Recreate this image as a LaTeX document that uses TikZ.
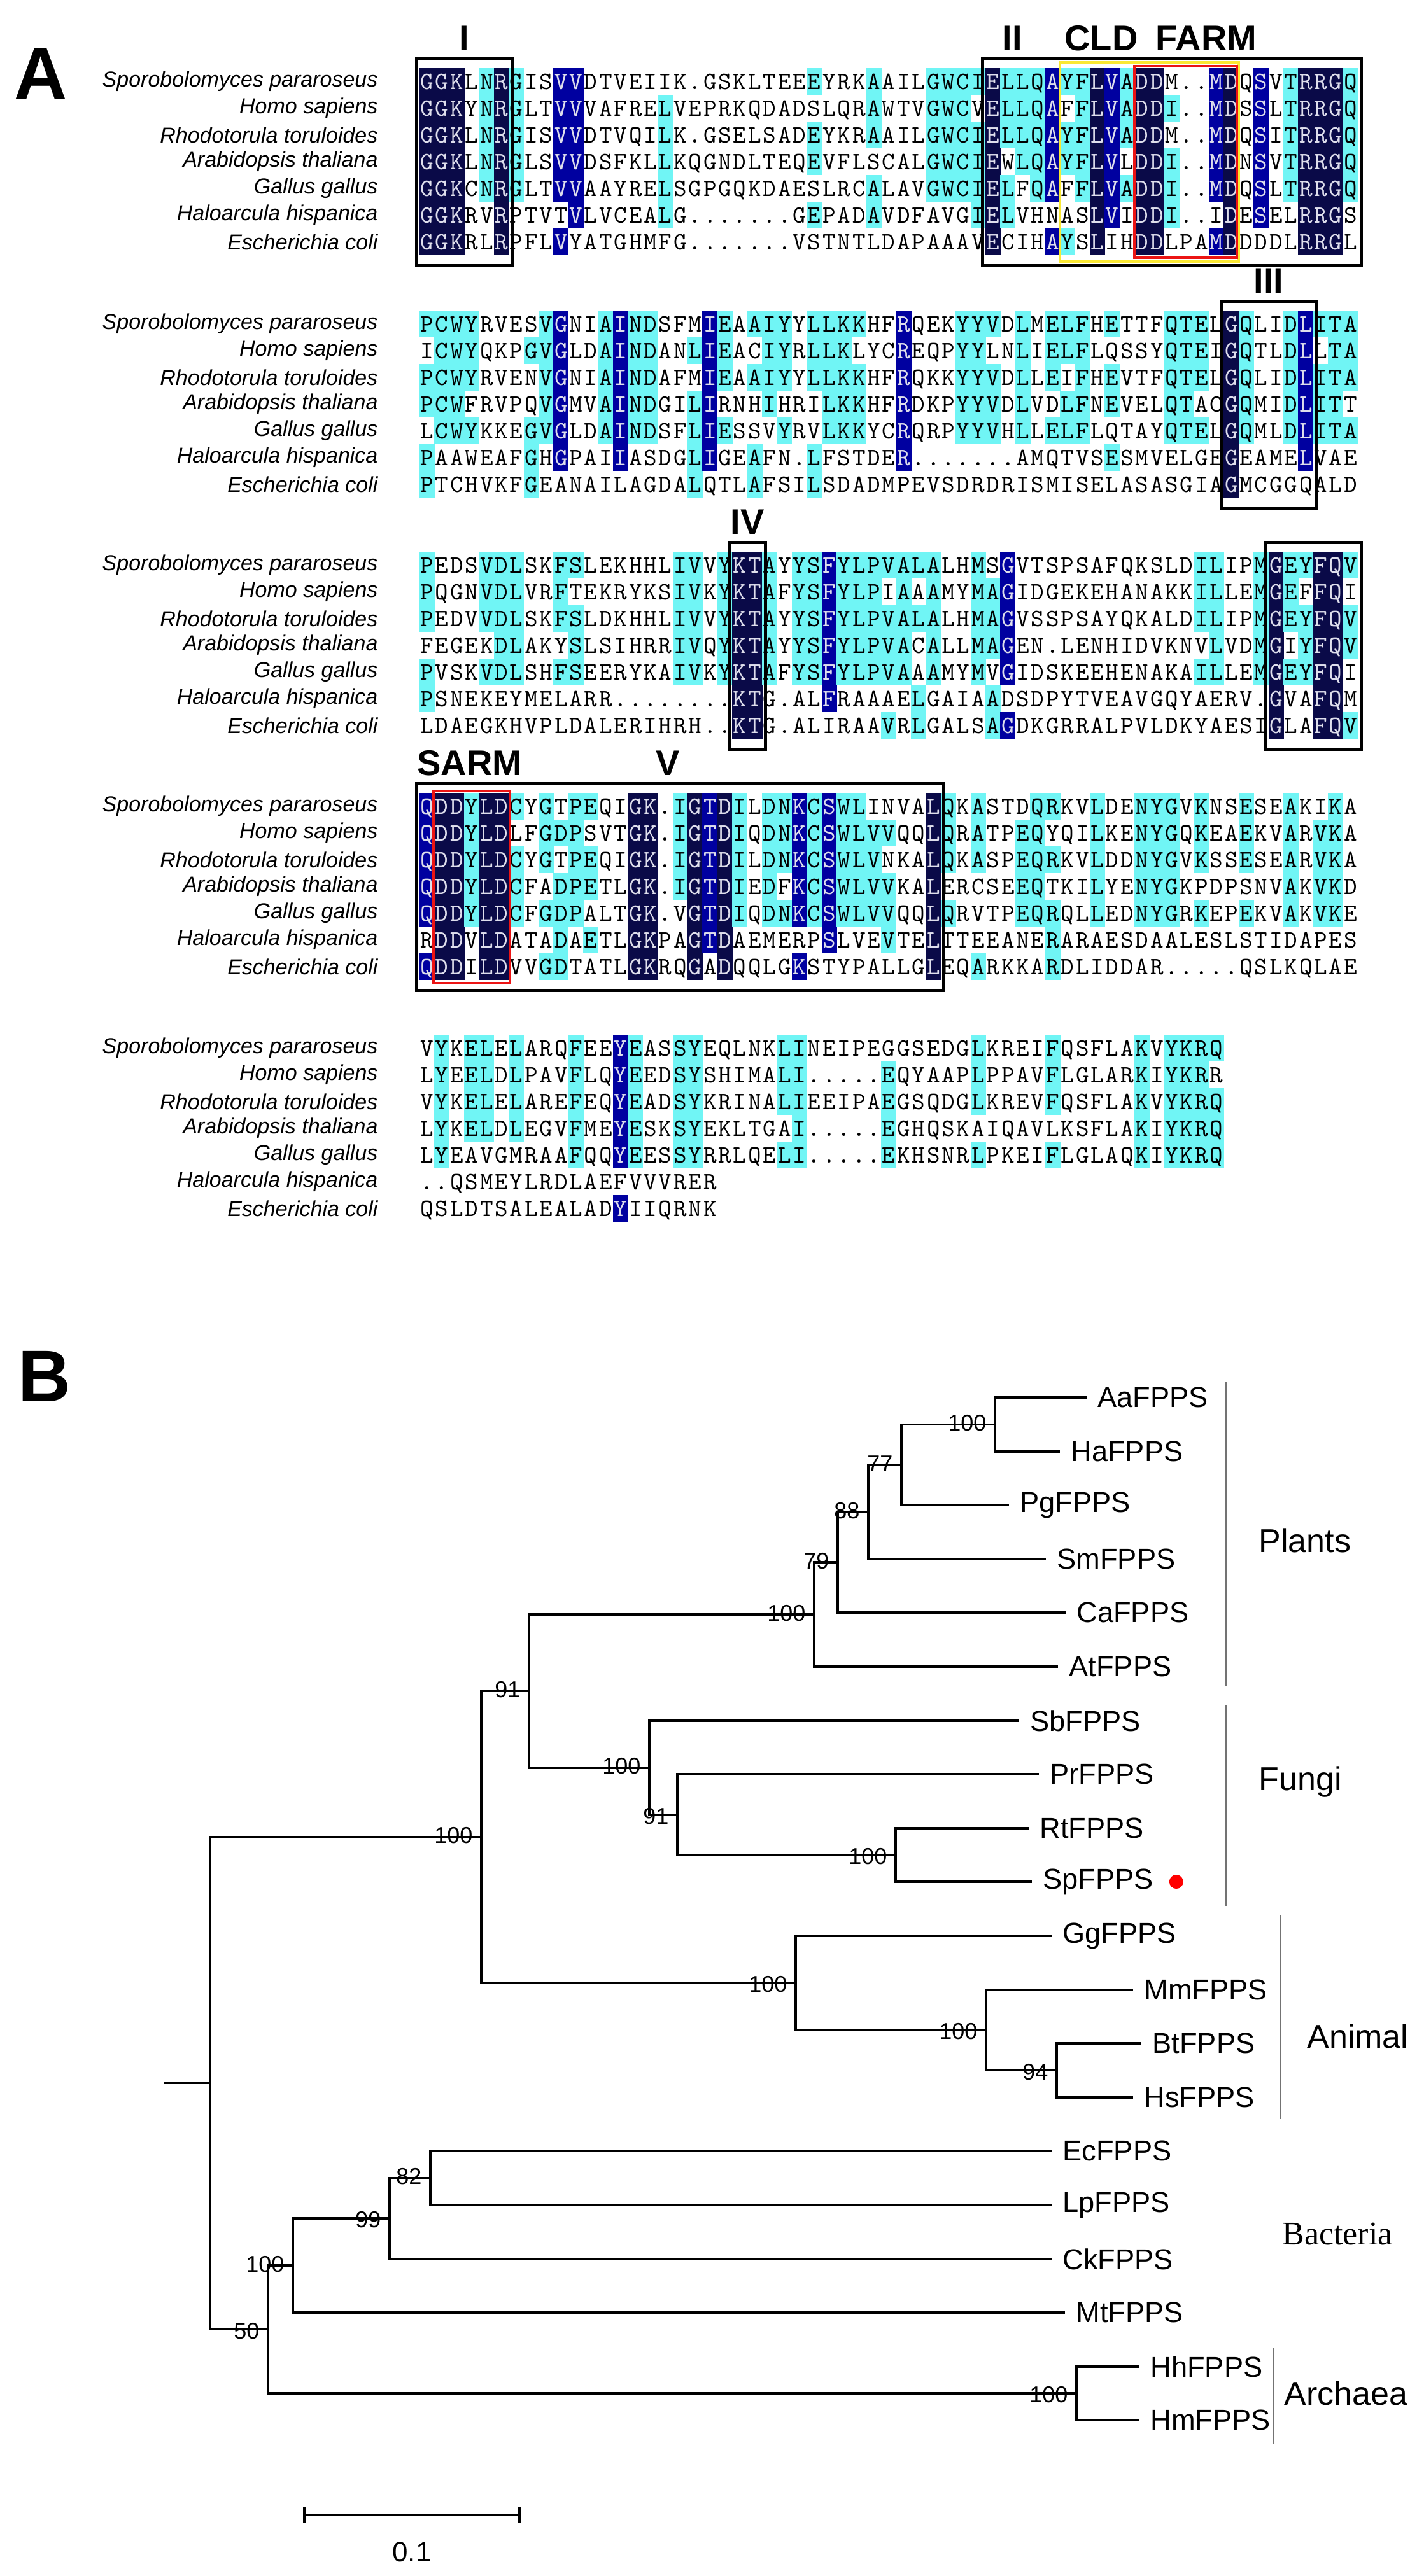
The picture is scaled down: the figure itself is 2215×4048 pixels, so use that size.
\documentclass[tikz,border=0pt]{standalone}
\usepackage{fontspec}
\setmainfont{Liberation Sans}
\newfontfamily\romanface{Liberation Serif}
\usetikzlibrary{positioning}

\definecolor{idnavy}{RGB}{10,10,72}
\definecolor{idblue}{RGB}{0,0,160}
\definecolor{idcyan}{RGB}{112,245,245}
\definecolor{idtext}{RGB}{222,222,236}
\definecolor{cldyellow}{RGB}{250,232,50}
\definecolor{farmred}{RGB}{235,20,20}

\def\seqx{659}   % left edge of column 1
\def\colw{23.4}  % one residue
\def\rowh{42}    % one line

% residue shading: 7/7 navy, 6/7 blue, 4-5/7 cyan
\ExplSyntaxOn
\seq_new:N \l_aln_rows_seq
\str_new:N \l_aln_row_str
\str_new:N \l_aln_res_str
\int_new:N \l_aln_hits_int
\cs_new_protected:Npn \aln_put:nnnnnn #1#2#3#4#5#6
 {
  \str_if_eq:nnF {#1} { none }
   { \fill [#1] (#2 - 0.3 , #3 - 21.3) rectangle (#2 + \colw + 0.3 , #3 + 21.3) ; }
  \node [residue , text = #4] (#5) at (#2 + \colw / 2 , #3) {#6} ;
 }
\cs_generate_variant:Nn \aln_put:nnnnnn { xxxxxV }
\cs_new_protected:Npn \aln_cell:nnnn #1#2#3#4
 {
  \str_set:Nx \l_aln_res_str { \str_item:Nn \l_aln_row_str {#4} }
  \int_zero:N \l_aln_hits_int
  \str_if_eq:eeF { \l_aln_res_str } { . }
   {
    \seq_map_inline:Nn \l_aln_rows_seq
     {
      \str_if_eq:eeT { \str_item:nn {##1} {#4} } { \l_aln_res_str }
       { \int_incr:N \l_aln_hits_int }
     }
   }
  \aln_put:xxxxxV
   {
    \int_case:nnF { \l_aln_hits_int }
     { {7} {idnavy} {6} {idblue} {5} {idcyan} {4} {idcyan} }
     { none }
   }
   { \fp_eval:n { \seqx + \colw * ( #4 - 1 ) } }
   { \fp_eval:n { #2 } }
   { \int_compare:nNnTF { \l_aln_hits_int } > { 5 } { idtext } { black } }
   { #1 r #3 c #4 }
   \l_aln_res_str
 }
\cs_new_protected:Npn \aln_block:nnn #1#2#3
 {
  \seq_set_from_clist:Nn \l_aln_rows_seq {#3}
  \int_step_inline:nn { \seq_count:N \l_aln_rows_seq }
   {
    \str_set:Nx \l_aln_row_str { \seq_item:Nn \l_aln_rows_seq {##1} }
    \int_step_inline:nn { \str_count:N \l_aln_row_str }
     { \aln_cell:nnnn {#1} { #2 + 21 + \rowh * ( ##1 - 1 ) } {##1} {####1} }
   }
 }
\NewDocumentCommand \alnblock { m m m } { \aln_block:nnn {#1} {#2} {#3} }
\ExplSyntaxOff

\newcommand\specieslabels[2]{%
  \foreach \spname [count=\k] in {Sporobolomyces pararoseus,Homo sapiens,Rhodotorula toruloides,Arabidopsis thaliana,Gallus gallus,Haloarcula hispanica,Escherichia coli}
    {\node[species] (#1sp\k) at (595,{#2+21+\rowh*(\k-1)}) {\spname};}%
}

\tikzset{every picture/.style={line width=0.75pt}}
\tikzset{
  residue/.style={font=\ttfamily\fontsize{9.8}{10}\selectfont, inner sep=0pt, text height=6pt, text depth=0pt},
  species/.style={font=\fontsize{8.5}{10}\selectfont\itshape, anchor=east, inner sep=0pt},
  panel/.style={font=\fontsize{28.75}{30}\selectfont\bfseries, inner sep=0pt},
  motif/.style={font=\fontsize{14}{14}\selectfont\bfseries, inner sep=0pt},
  motifbox/.style={line width=1.25pt},
  cldbox/.style={draw=cldyellow, line width=0.9pt},
  farmbox/.style={draw=farmred, line width=1.1pt},
  taxon/.style={font=\fontsize{11.3}{12}\selectfont, anchor=west, inner xsep=4pt, inner ysep=0pt},
  boot/.style={font=\fontsize{9}{10}\selectfont, inner sep=0pt},
  clade/.style={font=\fontsize{13}{14}\selectfont, anchor=west, inner sep=0pt},
  branch/.style={line width=0.9pt},
  bracket/.style={draw=black!55, line width=0.5pt},
}

\begin{document}
\begin{tikzpicture}[x=0.25pt,y=0.25pt,yscale=-1,xscale=1]
\useasboundingbox (0,0) rectangle (2215,4048);

% Text Node
\node[panel] (lblA) at (64,116) {A};

% block 1
\specieslabels{b1}{107}
\alnblock{b1}{107}{GGKLNRGISVVDTVEIIK.GSKLTEEEYRKAAILGWCIELLQAYFLVADDM..MDQSVTRRGQ,
GGKYNRGLTVVVAFRELVEPRKQDADSLQRAWTVGWCVELLQAFFLVADDI..MDSSLTRRGQ,
GGKLNRGISVVDTVQILK.GSELSADEYKRAAILGWCIELLQAYFLVADDM..MDQSITRRGQ,
GGKLNRGLSVVDSFKLLKQGNDLTEQEVFLSCALGWCIEWLQAYFLVLDDI..MDNSVTRRGQ,
GGKCNRGLTVVAAYRELSGPGQKDAESLRCALAVGWCIELFQAFFLVADDI..MDQSLTRRGQ,
GGKRVRPTVTVLVCEALG.......GEPADAVDFAVGIELVHNASLVIDDI..IDESELRRGS,
GGKRLRPFLVYATGHMFG.......VSTNTLDAPAAAVECIHAYSLIHDDLPAMDDDDLRRGL}
%Straight Lines
\draw[motifbox] (654,92) rectangle (804,417);
\draw[motifbox] (1543,92) rectangle (2138,417);
\draw[cldbox] (1665,98) rectangle (1946,411);
\draw[farmbox] (1782,104) rectangle (1943,405);
% Text Node
\node[motif] (mI) at (729,60) {I};
\node[motif] (mII) at (1590,60) {II};
\node[motif] (mCLD) at (1730,60) {CLD};
\node[motif] (mFARM) at (1895,60) {FARM};

% block 2
\specieslabels{b2}{488}
\alnblock{b2}{488}{PCWYRVESVGNIAINDSFMIEAAIYYLLKKHFRQEKYYVDLMELFHETTFQTELGQLIDLITA,
ICWYQKPGVGLDAINDANLIEACIYRLLKLYCREQPYYLNLIELFLQSSYQTEIGQTLDLLTA,
PCWYRVENVGNIAINDAFMIEAAIYYLLKKHFRQKKYYVDLLEIFHEVTFQTELGQLIDLITA,
PCWFRVPQVGMVAINDGILIRNHIHRILKKHFRDKPYYVDLVDLFNEVELQTACGQMIDLITT,
LCWYKKEGVGLDAINDSFLIESSVYRVLKKYCRQRPYYVHLLELFLQTAYQTELGQMLDLITA,
PAAWEAFGHGPAIIASDGLIGEAFN.LFSTDER.......AMQTVSESMVELGEGEAMELVAE,
PTCHVKFGEANAILAGDALQTLAFSILSDADMPEVSDRDRISMISELASASGIAGMCGGQALD}
%Straight Lines
\draw[motifbox] (1918,473) rectangle (2068,798);
% Text Node
\node[motif] (mIII) at (1993,441) {III};

% block 3
\specieslabels{b3}{867}
\alnblock{b3}{867}{PEDSVDLSKFSLEKHHLIVVYKTAYYSFYLPVALALHMSGVTSPSAFQKSLDILIPMGEYFQV,
PQGNVDLVRFTEKRYKSIVKYKTAFYSFYLPIAAAMYMAGIDGEKEHANAKKILLEMGEFFQI,
PEDVVDLSKFSLDKHHLIVVYKTAYYSFYLPVALALHMAGVSSPSAYQKALDILIPMGEYFQV,
FEGEKDLAKYSLSIHRRIVQYKTAYYSFYLPVACALLMAGEN.LENHIDVKNVLVDMGIYFQV,
PVSKVDLSHFSEERYKAIVKYKTAFYSFYLPVAAAMYMVGIDSKEEHENAKAILLEMGEYFQI,
PSNEKEYMELARR........KTG.ALFRAAAELGAIAADSDPYTVEAVGQYAERV.GVAFQM,
LDAEGKHVPLDALERIHRH..KTG.ALIRAAVRLGALSAGDKGRRALPVLDKYAESIGLAFQV}
%Straight Lines
\draw[motifbox] (1146,852) rectangle (1202,1177);
\draw[motifbox] (1988,852) rectangle (2138,1177);
% Text Node
\node[motif] (mIV) at (1174,820) {IV};

% block 4
\specieslabels{b4}{1246}
\alnblock{b4}{1246}{QDDYLDCYGTPEQIGK.IGTDILDNKCSWLINVALQKASTDQRKVLDENYGVKNSESEAKIKA,
QDDYLDLFGDPSVTGK.IGTDIQDNKCSWLVVQQLQRATPEQYQILKENYGQKEAEKVARVKA,
QDDYLDCYGTPEQIGK.IGTDILDNKCSWLVNKALQKASPEQRKVLDDNYGVKSSESEARVKA,
QDDYLDCFADPETLGK.IGTDIEDFKCSWLVVKALERCSEEQTKILYENYGKPDPSNVAKVKD,
QDDYLDCFGDPALTGK.VGTDIQDNKCSWLVVQQLQRVTPEQRQLLEDNYGRKEPEKVAKVKE,
RDDVLDATADAETLGKPAGTDAEMERPSLVEVTELTTEEANERARAESDAALESLSTIDAPES,
QDDILDVVGDTATLGKRQGADQQLGKSTYPALLGLEQARKKARDLIDDAR.....QSLKQLAE}
%Straight Lines
\draw[motifbox] (654,1231) rectangle (1482,1556);
\draw[farmbox] (681,1243) rectangle (801,1545);
% Text Node
\node[motif] (mSARM) at (738,1199) {SARM};
\node[motif] (mV) at (1049,1199) {V};

% block 5
\specieslabels{b5}{1626}
\alnblock{b5}{1626}{VYKELELARQFEEYEASSYEQLNKLINEIPEGGSEDGLKREIFQSFLAKVYKRQ,
LYEELDLPAVFLQYEEDSYSHIMALI.....EQYAAPLPPAVFLGLARKIYKRR,
VYKELELAREFEQYEADSYKRINALIEEIPAEGSQDGLKREVFQSFLAKVYKRQ,
LYKELDLEGVFMEYESKSYEKLTGAI.....EGHQSKAIQAVLKSFLAKIYKRQ,
LYEAVGMRAAFQQYEESSYRRLQELI.....EKHSNRLPKEIFLGLAQKIYKRQ,
..QSMEYLRDLAEFVVVRER,
QSLDTSALEALADYIIQRNK}

% Text Node
\node[panel] (lblB) at (70,2163) {B};

% tips
\node[taxon] (tAa) at (1707,2196) {AaFPPS};
\node[taxon] (tHa) at (1665,2281) {HaFPPS};
\node[taxon] (tPg) at (1585,2365) {PgFPPS};
\node[taxon] (tSm) at (1643,2450) {SmFPPS};
\node[taxon] (tCa) at (1674,2534) {CaFPPS};
\node[taxon] (tAt) at (1662,2619) {AtFPPS};
\node[taxon] (tSb) at (1601,2704) {SbFPPS};
\node[taxon] (tPr) at (1632,2788) {PrFPPS};
\node[taxon] (tRt) at (1616,2873) {RtFPPS};
\node[taxon] (tSp) at (1621,2957) {SpFPPS};
\node[taxon] (tGg) at (1652,3042) {GgFPPS};
\node[taxon] (tMm) at (1780,3127) {MmFPPS};
\node[taxon] (tBt) at (1793,3211) {BtFPPS};
\node[taxon] (tHs) at (1780,3296) {HsFPPS};
\node[taxon] (tEc) at (1652,3380) {EcFPPS};
\node[taxon] (tLp) at (1652,3465) {LpFPPS};
\node[taxon] (tCk) at (1652,3550) {CkFPPS};
\node[taxon] (tMt) at (1673,3634) {MtFPPS};
\node[taxon] (tHh) at (1790,3719) {HhFPPS};
\node[taxon] (tHm) at (1790,3803) {HmFPPS};
\node[circle, fill=red, inner sep=0pt, minimum size=5.5pt, right=1.5pt of tSp] (spdot) {};

% internal nodes
\coordinate (nAH) at (1563,2238.5);
\coordinate (n77) at (1416,2301.8);
\coordinate (n88) at (1364,2375.9);
\coordinate (n79) at (1316,2455);
\coordinate (nPl) at (1279,2537);
\coordinate (nF3) at (1407,2915);
\coordinate (nF2) at (1064,2851.5);
\coordinate (nF1) at (1020,2777.8);
\coordinate (n91) at (831,2657.4);
\coordinate (nBH) at (1660,3253.5);
\coordinate (nMm) at (1549,3190);
\coordinate (nAn) at (1250,3116);
\coordinate (nEu) at (756,2886.7);
\coordinate (nEL) at (676,3422.5);
\coordinate (nCk) at (612,3486);
\coordinate (nMt) at (460,3560);
\coordinate (nAr) at (1691,3761);
\coordinate (nPk) at (421,3660.5);
\coordinate (nRoot) at (330,3273.6);
\coordinate (nStub) at (258,3273.6);

% branches
\draw[branch] (nAH) |- (tAa.west);  \draw[branch] (nAH) |- (tHa.west);
\draw[branch] (n77) |- (nAH);       \draw[branch] (n77) |- (tPg.west);
\draw[branch] (n88) |- (n77);       \draw[branch] (n88) |- (tSm.west);
\draw[branch] (n79) |- (n88);       \draw[branch] (n79) |- (tCa.west);
\draw[branch] (nPl) |- (n79);       \draw[branch] (nPl) |- (tAt.west);
\draw[branch] (nF3) |- (tRt.west);  \draw[branch] (nF3) |- (tSp.west);
\draw[branch] (nF2) |- (tPr.west);  \draw[branch] (nF2) |- (nF3);
\draw[branch] (nF1) |- (tSb.west);  \draw[branch] (nF1) |- (nF2);
\draw[branch] (n91) |- (nPl);       \draw[branch] (n91) |- (nF1);
\draw[branch] (nBH) |- (tBt.west);  \draw[branch] (nBH) |- (tHs.west);
\draw[branch] (nMm) |- (tMm.west);  \draw[branch] (nMm) |- (nBH);
\draw[branch] (nAn) |- (tGg.west);  \draw[branch] (nAn) |- (nMm);
\draw[branch] (nEu) |- (n91);       \draw[branch] (nEu) |- (nAn);
\draw[branch] (nEL) |- (tEc.west);  \draw[branch] (nEL) |- (tLp.west);
\draw[branch] (nCk) |- (nEL);       \draw[branch] (nCk) |- (tCk.west);
\draw[branch] (nMt) |- (nCk);       \draw[branch] (nMt) |- (tMt.west);
\draw[branch] (nAr) |- (tHh.west);  \draw[branch] (nAr) |- (tHm.west);
\draw[branch] (nPk) |- (nMt);       \draw[branch] (nPk) |- (nAr);
\draw[branch] (nRoot) |- (nEu);     \draw[branch] (nRoot) |- (nPk);
\draw[branch] (nStub) -- (nRoot);

% bootstrap values
\node[boot, anchor=south east] (bAH) at ([xshift=-3pt,yshift=3pt]nAH) {100};
\node[boot, anchor=south east] (b77) at ([xshift=-3pt,yshift=3pt]n77) {77};
\node[boot, anchor=south east] (b88) at ([xshift=-3pt,yshift=3pt]n88) {88};
\node[boot, anchor=south east] (b79) at ([xshift=-3pt,yshift=3pt]n79) {79};
\node[boot, anchor=south east] (bPl) at ([xshift=-3pt,yshift=3pt]nPl) {100};
\node[boot, anchor=south east] (b91) at ([xshift=-3pt,yshift=3pt]n91) {91};
\node[boot, anchor=south east] (bF1) at ([xshift=-3pt,yshift=3pt]nF1) {100};
\node[boot, anchor=north east] (bF2) at ([xshift=-3pt,yshift=-3pt]nF2) {91};
\node[boot, anchor=north east] (bF3) at ([xshift=-3pt,yshift=-3pt]nF3) {100};
\node[boot, anchor=north east] (bAn) at ([xshift=-3pt,yshift=-3pt]nAn) {100};
\node[boot, anchor=north east] (bMm) at ([xshift=-3pt,yshift=-3pt]nMm) {100};
\node[boot, anchor=north east] (bBH) at ([xshift=-3pt,yshift=-3pt]nBH) {94};
\node[boot, anchor=south east] (bEu) at ([xshift=-3pt,yshift=3pt]nEu) {100};
\node[boot, anchor=south east] (bEL) at ([xshift=-3pt,yshift=3pt]nEL) {82};
\node[boot, anchor=north east] (bCk) at ([xshift=-3pt,yshift=-3pt]nCk) {99};
\node[boot, anchor=south east] (bMt) at ([xshift=-3pt,yshift=3pt]nMt) {100};
\node[boot, anchor=north east] (bAr) at ([xshift=-3pt,yshift=-3pt]nAr) {100};
\node[boot, anchor=north east] (bPk) at ([xshift=-3pt,yshift=-3pt]nPk) {50};

% clades
\draw[bracket] (1926,2172) -- (1926,2650);
\draw[bracket] (1926,2680) -- (1926,2995);
\draw[bracket] (2012,3010) -- (2012,3330);
\draw[bracket] (2000,3690) -- (2000,3840);
\node[clade] (cPl) at (1976,2421) {Plants};
\node[clade] (cFu) at (1976,2800) {Fungi};
\node[clade] (cAn) at (2052,3200) {Animal};
\node[clade, font=\fontsize{13}{14}\romanface] (cBa) at (2013,3510) {Bacteria};
\node[clade] (cAr) at (2016,3761) {Archaea};

% scale bar
\coordinate (sbL) at (478,3952);
\coordinate (sbR) at (816,3952);
\draw[branch] (sbL) -- (sbR);
\draw[branch] ([yshift=3pt]sbL) -- ([yshift=-3pt]sbL);
\draw[branch] ([yshift=3pt]sbR) -- ([yshift=-3pt]sbR);
\node[boot, font=\fontsize{11}{12}\selectfont] (sbT) at (647,4010) {0.1};

\end{tikzpicture}
\end{document}
